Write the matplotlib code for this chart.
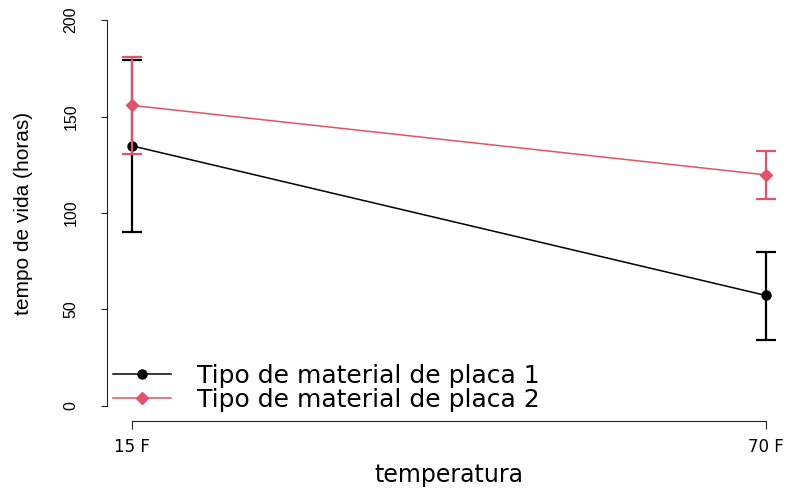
import numpy as np
import matplotlib.pyplot as plt

# dados: tempo de vida medio e intervalo por temperatura
temperaturas = ["15 F", "70 F"]
media_placa1 = [134.75, 57.25]
inf_placa1 = [90.0, 34.0]
sup_placa1 = [179.5, 80.0]
media_placa2 = [155.75, 119.75]
inf_placa2 = [130.75, 107.25]
sup_placa2 = [180.75, 132.0]

preto = "black"
rosa = "#DF536B"

fig = plt.figure(figsize=(7.9, 4.88), dpi=100)
ax = fig.add_axes([107 / 790, 1 - 421.4 / 488, 684.4 / 790, 416.8 / 488])

x = np.arange(1, len(temperaturas) + 1)

def serie(media, inf, sup, cor, marcador, ms, rotulo):
    media = np.array(media)
    erro = [media - np.array(inf), np.array(sup) - media]
    ax.errorbar(x, media, yerr=erro, fmt="none", ecolor=cor, elinewidth=1.6,
                capsize=7, capthick=1.6)
    ax.plot(x, media, color=cor, lw=1.1, marker=marcador, ms=ms, label=rotulo)

serie(media_placa1, inf_placa1, sup_placa1, preto, "o", 6.5, "Tipo de material de placa 1")
serie(media_placa2, inf_placa2, sup_placa2, rosa, "D", 6.0, "Tipo de material de placa 2")

ax.set_xlim(1 - 0.04, 2 + 0.04)
ax.set_ylim(-8, 208)

for lado in ["top", "right"]:
    ax.spines[lado].set_visible(False)
ax.spines["left"].set_bounds(0, 200)
ax.spines["bottom"].set_bounds(1, 2)
for lado in ["left", "bottom"]:
    ax.spines[lado].set_linewidth(0.8)
    ax.spines[lado].set_color("#222222")

ax.set_yticks([0, 50, 100, 150, 200])
ax.set_yticklabels(["0", "50", "100", "150", "200"], rotation=90, va="center",
                   family="Liberation Sans", fontsize=11.5)
ax.tick_params(axis="y", length=4.5, pad=16, width=0.8, color="#222222")
ax.set_xticks(x)
ax.set_xticklabels(temperaturas, family="DejaVu Sans", fontsize=12)
ax.tick_params(axis="x", length=6, pad=6, width=0.8, color="#222222")

ax.set_ylabel("tempo de vida (horas)", family="Liberation Sans", fontsize=15,
              labelpad=22)
ax.set_xlabel("temperatura", family="DejaVu Sans", fontsize=17, labelpad=5)

ax.legend(loc="upper left", bbox_to_anchor=(113 / 790, 1 - 364 / 488),
          bbox_transform=fig.transFigure, frameon=False, borderpad=0,
          borderaxespad=0, handlelength=2.3, handletextpad=1.05,
          labelspacing=0.0, prop={"family": "DejaVu Sans", "size": 18})

fig.savefig("out.png", dpi=100)
